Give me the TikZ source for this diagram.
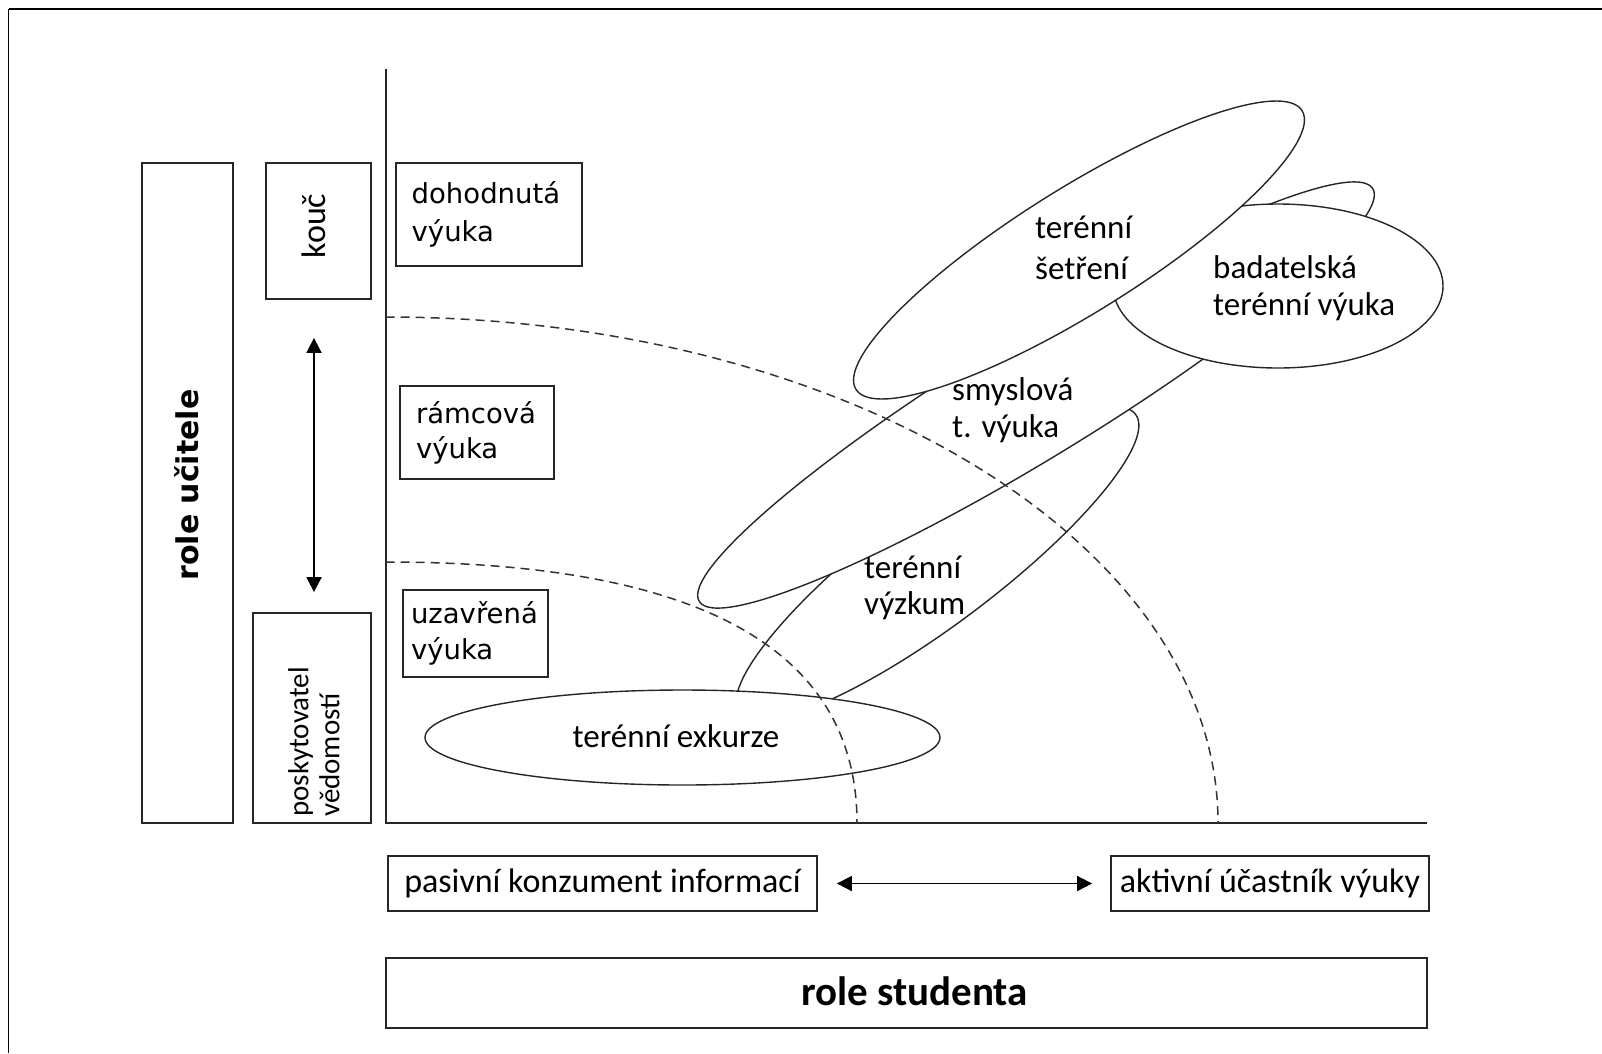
\documentclass[tikz,border=0pt]{standalone}
\usepackage{fontspec}
\setmainfont{Carlito}
\newfontfamily\dejavu{DejaVu Sans}
\usetikzlibrary{shapes.geometric, arrows.meta}
\begin{document}
\begin{tikzpicture}[x=1pt, y=-1pt,
  box/.style={draw=black!85, line width=1.8pt, rectangle, inner sep=0pt},
  oval/.style={ellipse, draw=black!85, line width=1.4pt, fill=white, inner sep=0pt},
  ovaltext/.style={inner sep=0pt, align=left},
  dashline/.style={draw=black!80, line width=1.5pt, dash pattern=on 9pt off 6pt},
  axisline/.style={draw=black!85, line width=1.8pt},
  dblarrow/.style={draw=black, line width=1.8pt, {Triangle[length=15pt,width=15pt]}-{Triangle[length=15pt,width=15pt]}}
]
\useasboundingbox (0,0) rectangle (1602,1053);

% outer frame (top and left edges)
\coordinate (ftl) at (8.5,9);
\coordinate (ftr) at (1602,9);
\coordinate (fbl) at (8.5,1053);
\draw[line width=2.5pt] (ftr) -- (ftl);
\draw[line width=1.5pt] (ftl) -- (fbl);

% axes
\coordinate (origin) at (385.7,823);
\coordinate (ytop) at (385.7,69);
\coordinate (xend) at (1427,823);
\draw[axisline] (ytop) -- (origin) -- (xend);

% ellipses (back to front)
\node[oval, rotate=37, minimum width=496pt, minimum height=120pt] (vyzkum) at (937.5,563.6) {};
\node[oval, rotate=31.5, minimum width=790pt, minimum height=124pt] (smysl) at (1036,395) {};
\node[oval, minimum width=515pt, minimum height=95pt] (exk) at (682.5,737.5) {};
\node[oval, minimum width=330pt, minimum height=164pt] (badat) at (1278,286) {};
\node[oval, rotate=32, minimum width=526pt, minimum height=124pt] (setr) at (1079,250) {};

% dashed arcs
\coordinate (in0) at (385.7,562);
\coordinate (in1) at (857,823);
\draw[dashline] (in0) .. controls (699,562) and (857,649) .. (in1);
\coordinate (out0) at (385.7,317);
\draw[dashline] (out0) arc[start angle=90, end angle=0, x radius=832.3pt, y radius=506pt];

% ellipse labels
\node[ovaltext, anchor=west, font=\fontsize{33}{40.5}\selectfont] (setrT) at (1035,247.7) {terénní\\šetření};
\node[ovaltext, anchor=west, font=\fontsize{33}{36.7}\selectfont] (badatT) at (1213,288.3) {badatelská\\terénní výuka};
\node[ovaltext, anchor=west, font=\fontsize{33}{36.5}\selectfont] (smyslT) at (952,410) {smyslová\\t. výuka};
\node[ovaltext, anchor=west, font=\fontsize{33}{36.7}\selectfont] (vyzkT) at (864,588) {terénní\\výzkum};
\node[inner sep=0pt, font=\fontsize{33}{36}\selectfont] (exkT) at (676,736) {terénní exkurze};

% left column: role učitele
\node[box, minimum width=91.3pt, minimum height=660pt] (ucbox) at (187.35,493) {};
\node[rotate=90, inner sep=0pt, font=\dejavu\bfseries\fontsize{30}{36}\selectfont] (uc) at (187,485) {role učitele};

% kouč / poskytovatel
\node[box, minimum width=104.7pt, minimum height=136pt] (kouc) at (318.35,231) {};
\node[rotate=90, inner sep=0pt, font=\fontsize{34}{40}\selectfont] (koucT) at (314,226) {kouč};
\node[box, minimum width=117.7pt, minimum height=210pt] (posky) at (311.85,718) {};
\node[rotate=90, inner sep=0pt, align=left, anchor=west, font=\fontsize{29}{31}\selectfont] (poskyT) at (314,817) {poskytovatel\\vědomostí};
\coordinate (ax) at (314,0);
\draw[dblarrow, shorten <=38pt, shorten >=20pt] (kouc.south -| ax) -- (posky.north -| ax);

% teaching type boxes
\node[box, minimum width=186pt, minimum height=103pt, text width=154pt, inner xsep=16pt, align=left, font=\dejavu\fontsize{27.5}{38}\selectfont] (dohod) at (488.7,214.5) {dohodnutá\\výuka};
\node[box, minimum width=154pt, minimum height=93pt, text width=122pt, inner xsep=16pt, align=left, font=\dejavu\fontsize{27.5}{35}\selectfont] (ramc) at (477,432.7) {rámcová\\výuka};
\node[box, minimum width=145pt, minimum height=87.3pt, text width=129pt, inner xsep=8pt, align=left, font=\dejavu\fontsize{27.5}{36}\selectfont] (uzav) at (475.5,633.7) {uzavřená\\výuka};

% student role
\node[box, minimum width=429pt, minimum height=55pt, font=\fontsize{34}{40}\selectfont] (pasiv) at (602.5,883.5) {pasivní konzument informací};
\node[box, minimum width=318pt, minimum height=55pt, font=\fontsize{34}{40}\selectfont] (aktiv) at (1270,883.5) {aktivní účastník výuky};
\draw[dblarrow, shorten <=19pt, shorten >=18pt] (pasiv.east) -- (aktiv.west);
\node[box, minimum width=1041.3pt, minimum height=69.4pt] (stbox) at (906.35,993) {};
\node[inner sep=0pt, font=\bfseries\fontsize{41}{48}\selectfont] (st) at (914.5,991) {role studenta};
\end{tikzpicture}
\end{document}
